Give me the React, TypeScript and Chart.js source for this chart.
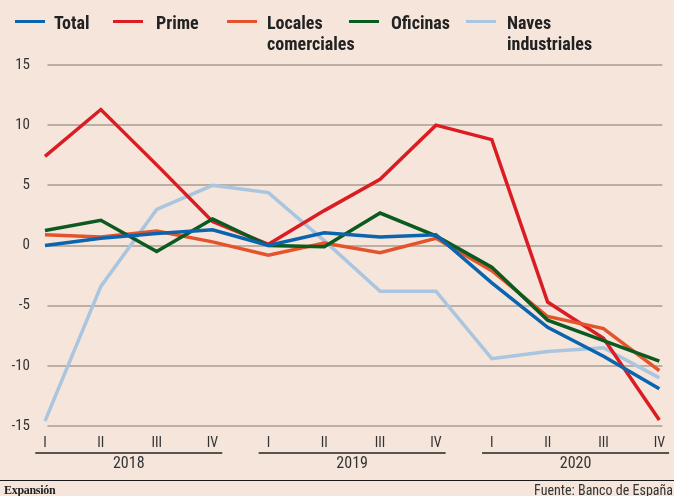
import React, { useEffect, useRef } from "react";
import { Chart, registerables } from "chart.js";

Chart.register(...registerables);

const quarters = ["I", "II", "III", "IV", "I", "II", "III", "IV", "I", "II", "III", "IV"];
const years = ["2018", "2019", "2020"];

const total = [0, 0.6, 1.0, 1.3, 0, 1.05, 0.7, 0.9, -3.1, -6.8, -9.2, -11.9];
const prime = [7.4, 11.3, 6.7, 2.0, 0.1, 2.9, 5.5, 10.0, 8.8, -4.7, -7.7, -14.5];
const locales = [0.9, 0.7, 1.2, 0.3, -0.8, 0.2, -0.6, 0.6, -2.1, -5.9, -6.9, -10.4];
const oficinas = [1.25, 2.1, -0.5, 2.2, 0, -0.1, 2.7, 0.8, -1.8, -6.2, -7.9, -9.6];
const naves = [-14.6, -3.4, 3.0, 5.0, 4.4, 0.4, -3.8, -3.8, -9.4, -8.8, -8.5, -11.0];

const seriesNames = ["Total", "Prime", "Locales\ncomerciales", "Oficinas", "Naves\nindustriales"];
const seriesColors = ["#0b64ae", "#dc1c23", "#e5532c", "#0b5a20", "#aac5e0"];

const BG = "rgb(245,229,218)";
const NARROW = "'Liberation Sans Narrow', 'Roboto Condensed', 'DejaVu Sans Condensed', 'Arial Narrow', sans-serif";

const legendPos = [
  { sw: 15, tx: 54 },
  { sw: 113, tx: 156 },
  { sw: 227, tx: 267 },
  { sw: 349, tx: 391 },
  { sw: 466, tx: 507 },
];

const gridPlugin = {
  id: "customGrid",
  beforeDatasetsDraw(chart: any) {
    const { ctx, chartArea, scales } = chart;
    const y = scales.y;
    ctx.save();
    ctx.strokeStyle = "#bcaea3";
    ctx.lineWidth = 2;
    y.ticks.forEach((t: any) => {
      const py = Math.round(y.getPixelForValue(t.value));
      ctx.beginPath();
      ctx.moveTo(chartArea.left + 2.5, py);
      ctx.lineTo(chartArea.right + 3, py);
      ctx.stroke();
    });
    ctx.restore();
  },
};

const yearPlugin = {
  id: "yearGroups",
  afterDraw(chart: any) {
    const { ctx, scales } = chart;
    const x = scales.x;
    ctx.save();
    years.forEach((yr, i) => {
      const x1 = x.getPixelForValue(i * 4);
      const x2 = x.getPixelForValue(i * 4 + 3);
      const c = (x1 + x2) / 2;
      ctx.strokeStyle = "#222";
      ctx.lineWidth = 1.5;
      ctx.beginPath();
      ctx.moveTo(c - 93.5, 453);
      ctx.lineTo(c + 93.5, 453);
      ctx.stroke();
      ctx.fillStyle = "#333";
      ctx.font = `16px ${NARROW}`;
      ctx.textAlign = "center";
      ctx.textBaseline = "middle";
      ctx.fillText(yr, c, 464);
    });
    ctx.restore();
  },
};

export default function App() {
  const ref = useRef<HTMLCanvasElement | null>(null);

  useEffect(() => {
    if (!ref.current) return;
    const data = [total, prime, locales, oficinas, naves];
    const drawOrder = [0, 3, 2, 1, 4];
    const chart = new Chart(ref.current, {
      type: "line",
      data: {
        labels: quarters,
        datasets: data.map((d, i) => ({
          label: seriesNames[i].replace("\n", " "),
          data: d,
          borderColor: seriesColors[i],
          backgroundColor: seriesColors[i],
          borderWidth: 3.5,
          pointRadius: 0,
          tension: 0,
          borderJoinStyle: "miter" as const,
          order: drawOrder[i],
          fill: false,
        })),
      },
      options: {
        animation: false,
        responsive: false,
        devicePixelRatio: 1,
        layout: { padding: { top: 65, right: 14, left: 0, bottom: 0 } },
        plugins: { legend: { display: false }, tooltip: { enabled: false } },
        scales: {
          x: {
            offset: false,
            grid: { display: false, drawTicks: false },
            border: { display: false },
            ticks: {
              font: { family: NARROW, size: 14 },
              color: "#333",
              padding: 9,
              maxRotation: 0,
              autoSkip: false,
            },
            afterFit(scale: any) {
              scale.height = 70;
            },
          },
          y: {
            min: -15,
            max: 15,
            grid: { display: false, drawTicks: false },
            border: { display: false },
            ticks: {
              stepSize: 5,
              font: { family: NARROW, size: 15 },
              color: "#333",
              padding: 15,
            },
            afterFit(scale: any) {
              scale.width = 45;
            },
          },
        },
      },
      plugins: [gridPlugin, yearPlugin],
    });
    return () => chart.destroy();
  }, []);

  return (
    <div
      style={{
        position: "absolute",
        left: 0,
        top: 0,
        width: 674,
        height: 496,
        background: BG,
        overflow: "hidden",
      }}
    >
      <canvas ref={ref} width={674} height={496} style={{ position: "absolute", left: 0, top: 0 }} />
      {seriesNames.map((name, i) => (
        <React.Fragment key={name}>
          <div
            style={{
              position: "absolute",
              left: legendPos[i].sw,
              top: 19.5,
              width: 30,
              height: 3.5,
              background: seriesColors[i],
            }}
          />
          <div
            style={{
              position: "absolute",
              left: legendPos[i].tx,
              top: 12,
              fontFamily: NARROW,
              fontWeight: "bold",
              fontSize: 18,
              lineHeight: "21px",
              color: "#222",
              whiteSpace: "pre",
            }}
          >
            {name}
          </div>
        </React.Fragment>
      ))}
      <div
        style={{
          position: "absolute",
          left: 0,
          top: 479.5,
          width: 674,
          height: 1.5,
          background: "#1a1a1a",
        }}
      />
      <div
        style={{
          position: "absolute",
          left: 4,
          top: 483,
          fontFamily: "'Liberation Serif', 'DejaVu Serif', serif",
          fontWeight: "bold",
          fontSize: 12,
          letterSpacing: -0.3,
          color: "#222",
          lineHeight: "14px",
        }}
      >
        Expansión
      </div>
      <div
        style={{
          position: "absolute",
          right: 1,
          top: 482,
          fontFamily: NARROW,
          fontSize: 14,
          color: "#333",
          lineHeight: "16px",
        }}
      >
        Fuente: Banco de España
      </div>
    </div>
  );
}
